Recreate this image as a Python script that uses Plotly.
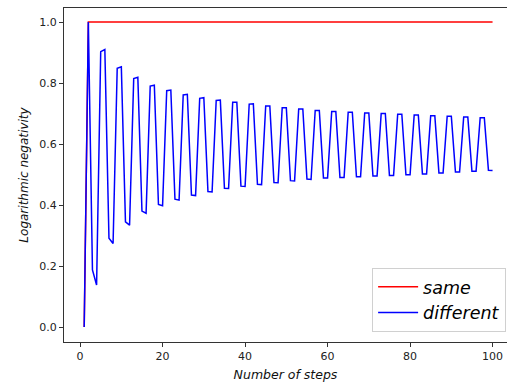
import plotly.graph_objects as go

steps = list(range(1, 101))

same = [0.0] + [1.0] * 99

different = [
    0.000, 1.000, 0.187, 0.138, 0.903, 0.910, 0.291, 0.274, 0.848, 0.853,
    0.345, 0.334, 0.815, 0.819, 0.380, 0.373, 0.790, 0.793, 0.402, 0.398,
    0.775, 0.777, 0.419, 0.416, 0.761, 0.763, 0.433, 0.431, 0.750, 0.752,
    0.444, 0.443, 0.743, 0.744, 0.455, 0.454, 0.737, 0.737, 0.462, 0.461,
    0.731, 0.732, 0.468, 0.467, 0.725, 0.725, 0.474, 0.473, 0.719, 0.719,
    0.480, 0.479, 0.715, 0.715, 0.485, 0.484, 0.710, 0.710, 0.489, 0.489,
    0.707, 0.707, 0.490, 0.490, 0.704, 0.704, 0.493, 0.493, 0.702, 0.702,
    0.495, 0.495, 0.700, 0.700, 0.497, 0.497, 0.698, 0.698, 0.499, 0.499,
    0.695, 0.695, 0.502, 0.502, 0.693, 0.693, 0.505, 0.505, 0.691, 0.691,
    0.508, 0.508, 0.689, 0.689, 0.511, 0.511, 0.686, 0.686, 0.514, 0.513,
]

x_ticks = [0, 20, 40, 60, 80, 100]
y_ticks = [0.0, 0.2, 0.4, 0.6, 0.8, 1.0]
y_tick_labels = ["0.0", "0.2", "0.4", "0.6", "0.8", "1.0"]

fig = go.Figure()
fig.add_trace(go.Scatter(x=steps, y=same, mode="lines", name="same",
                         line=dict(color="red", width=1.5)))
fig.add_trace(go.Scatter(x=steps, y=different, mode="lines", name="different",
                         line=dict(color="blue", width=1.5)))

font_family = "DejaVu Sans"
fig.update_layout(
    width=507, height=385,
    margin=dict(l=64, r=0, t=8, b=43),
    paper_bgcolor="white", plot_bgcolor="white",
    font=dict(family=font_family, size=11, color="#222"),
    showlegend=True,
    legend=dict(
        x=0.998, y=0.03, xanchor="right", yanchor="bottom",
        bgcolor="rgba(255,255,255,0.9)", bordercolor="#d0d0d0", borderwidth=1,
        font=dict(family=font_family, size=17.5, style="italic", color="#000"),
        tracegroupgap=0, itemwidth=40,
    ),
    xaxis=dict(
        range=[-3.9, 103.5], tickvals=x_ticks, showgrid=False, zeroline=False,
        showline=True, linecolor="#333", linewidth=1.2, mirror=True,
        ticks="outside", ticklen=4, tickcolor="#333",
        tickfont=dict(size=11),
        title=dict(text="Number of steps", standoff=7,
                   font=dict(size=12.5, style="italic", color="#111")),
    ),
    yaxis=dict(
        range=[-0.049, 1.046], tickvals=y_ticks, ticktext=y_tick_labels,
        showgrid=False, zeroline=False,
        showline=True, linecolor="#333", linewidth=1.2, mirror=False,
        ticks="outside", ticklen=4, tickcolor="#333",
        tickfont=dict(size=11),
        title=dict(text="Logarithmic negativity", standoff=8,
                   font=dict(size=12, style="italic", color="#111")),
    ),
)

fig.write_html(
    "out.html",
    config={"displayModeBar": False},
    post_script="document.body.style.margin='0';document.body.style.padding='0';",
)
